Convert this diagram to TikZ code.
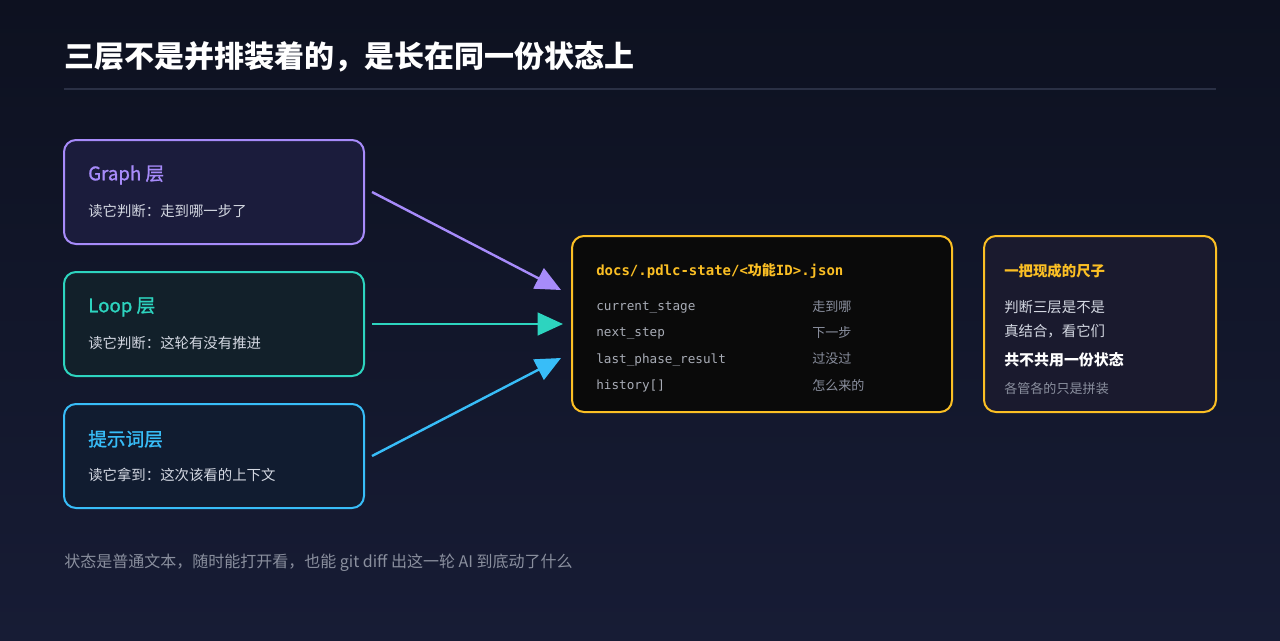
\documentclass[tikz,border=0pt]{standalone}
\usepackage{fontspec}
\setmainfont{Noto Sans CJK SC}
\newfontfamily\medfont[FakeBold=1.2]{Noto Sans CJK SC}
\setmonofont{DejaVu Sans Mono}
\usetikzlibrary{arrows.meta}
\definecolor{bgtop}{HTML}{0D1120}
\definecolor{bgbot}{HTML}{171C35}
\definecolor{purp}{HTML}{A78BFA}
\definecolor{teal}{HTML}{2DD4BF}
\definecolor{sky}{HTML}{38BDF8}
\definecolor{amber}{HTML}{FBBF24}
\definecolor{sub}{HTML}{D4D8E2}
\definecolor{dim}{HTML}{8A8F9E}
\definecolor{code}{HTML}{A8ACB6}
\definecolor{fpurp}{HTML}{1B1C3C}
\definecolor{fteal}{HTML}{12202A}
\definecolor{fsky}{HTML}{111C30}
\definecolor{fcen}{HTML}{0A0A0A}
\definecolor{fright}{HTML}{1A1A2E}
\definecolor{rule}{HTML}{2A3045}
\begin{document}
\begin{tikzpicture}[x=0.75pt,y=-0.75pt,every node/.style={inner sep=0pt},
  box/.style={rounded corners=9pt,line width=1.5pt},
  ttlx/.style={anchor=west,font=\medfont\fontsize{14}{16}\selectfont},
  stx/.style={anchor=west,text=sub,font=\fontsize{10.8}{13}\selectfont},
  cdx/.style={anchor=west,text=code,font=\ttfamily\fontsize{9.5}{12}\selectfont},
  cmx/.style={anchor=west,text=dim,font=\fontsize{9.8}{12}\selectfont},
  arr/.style={line width=1.8pt,-{Triangle[length=19pt,width=17pt]}}]
\shade[top color=bgtop,bottom color=bgbot] (0,0) rectangle (1280,640);
\useasboundingbox (0,0) rectangle (1280,640);
\node[anchor=west,text=white,font=\fontsize{22.5}{26}\selectfont\bfseries] (title) at (64,57) {三层不是并排装着的，是长在同一份状态上};
\draw[rule,line width=1pt] (64,89) -- (1216,89);
% left boxes
\draw[box,draw=purp,fill=fpurp] (64,140) rectangle (364,244);
\node[ttlx,text=purp] (gt) at (88,175) {Graph 层};
\node[stx] (gs) at (88,211) {读它判断：走到哪一步了};
\draw[box,draw=teal,fill=fteal] (64,272) rectangle (364,376);
\node[ttlx,text=teal] (lt) at (88,307) {Loop 层};
\node[stx] (ls) at (88,343) {读它判断：这轮有没有推进};
\draw[box,draw=sky,fill=fsky] (64,404) rectangle (364,508);
\node[ttlx,text=sky] (pt) at (88,439) {提示词层};
\node[stx] (ps) at (88,475) {读它拿到：这次该看的上下文};
\coordinate (g) at (372,192);
\coordinate (l) at (372,324);
\coordinate (p) at (372,456);
\coordinate (cg) at (561,290);
\coordinate (cl) at (563,324);
\coordinate (cp) at (561,358);
\draw[arr,purp] (g) -- (cg);
\draw[arr,teal] (l) -- (cl);
\draw[arr,sky] (p) -- (cp);
% center
\draw[box,draw=amber,fill=fcen] (572,236) rectangle (952,412);
\node[anchor=west,text=amber,font=\ttfamily\bfseries\fontsize{10.5}{13}\selectfont] (ct) at (596,271) {docs/.pdlc-state/<{\rmfamily 功能}ID>.json};
\node[cdx] (c1) at (596,308) {current\_stage};
\node[cdx] (c2) at (596,334) {next\_step};
\node[cdx] (c3) at (596,360) {last\_phase\_result};
\node[cdx] (c4) at (596,386) {history[]};
\node[cmx] (m1) at (812,307) {走到哪};
\node[cmx] (m2) at (812,333) {下一步};
\node[cmx] (m3) at (812,359) {过没过};
\node[cmx] (m4) at (812,385) {怎么来的};
% right
\draw[box,draw=amber,fill=fright] (984,236) rectangle (1216,412);
\node[anchor=west,text=amber,font=\bfseries\fontsize{10.8}{13}\selectfont] (rt) at (1004,271) {一把现成的尺子};
\node[stx] (r1) at (1004,307) {判断三层是不是};
\node[stx] (r2) at (1004,331) {真结合，看它们};
\node[anchor=west,text=white,font=\bfseries\fontsize{11.2}{13}\selectfont] (r3) at (1004,360) {共不共用一份状态};
\node[cmx] (r4) at (1004,389) {各管各的只是拼装};
\node[anchor=west,text=dim,font=\fontsize{12}{14}\selectfont] (foot) at (64,563) {状态是普通文本，随时能打开看，也能 git diff 出这一轮 AI 到底动了什么};
\end{tikzpicture}
\end{document}
